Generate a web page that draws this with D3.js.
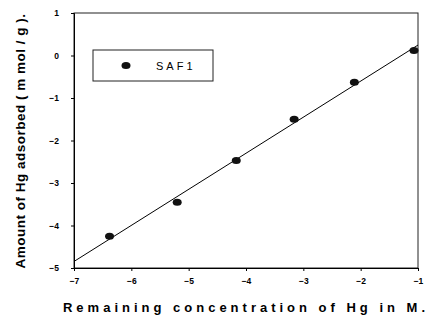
<!DOCTYPE html>
<html>
<head>
<meta charset="utf-8">
<script src="https://cdn.jsdelivr.net/npm/d3@7"></script>
<style>
  body { margin: 0; background: #fff; }
  text { font-family: Arial, "Liberation Sans", sans-serif; font-weight: bold; }
</style>
</head>
<body>
<div id="chart"></div>
<script>
var concX = [-6.38, -5.20, -4.17, -3.16, -2.11, -1.07];
var amountY = [-4.25, -3.45, -2.47, -1.50, -0.63, 0.12];
var xTicks = [-7, -6, -5, -4, -3, -2, -1];
var yTicks = [-5, -4, -3, -2, -1, 0, 1];
var seriesName = "SAF1";

var margin = {top: 13, right: 10, bottom: 47, left: 74},
    width = 428 - margin.left - margin.right,
    height = 315 - margin.top - margin.bottom;

var svg = d3.select("#chart").append("svg")
    .attr("width", 428)
    .attr("height", 315)
  .append("g")
    .attr("transform", "translate(" + margin.left + "," + margin.top + ")");

var x = d3.scaleLinear().domain([-7, -1]).range([0, width]);
var y = d3.scaleLinear().domain([-5, 1]).range([height, 0]);

// least squares fit
var mx = d3.mean(concX), my = d3.mean(amountY);
var sxy = d3.sum(concX, function(v, i) { return (v - mx) * (amountY[i] - my); });
var sxx = d3.sum(concX, function(v) { return (v - mx) * (v - mx); });
var slope = sxy / sxx, intercept = my - slope * mx;

// frame
svg.append("rect")
    .attr("width", width)
    .attr("height", height)
    .attr("fill", "none")
    .attr("stroke", "#222")
    .attr("stroke-width", 1);

var xAxis = svg.append("g")
    .attr("transform", "translate(0," + height + ")")
    .call(d3.axisBottom(x).tickValues(xTicks).tickSize(3).tickPadding(7).tickFormat(d3.format("d")));

var yAxis = svg.append("g")
    .call(d3.axisLeft(y).tickValues(yTicks).tickSize(3).tickPadding(12).tickFormat(d3.format("d")));

[xAxis, yAxis].forEach(function(a) {
  a.select(".domain").attr("stroke", "#000");
  a.selectAll("text").style("font-size", "8.5px").attr("fill", "#000");
});

var line = d3.line()
    .x(function(d) { return x(d); })
    .y(function(d) { return y(slope * d + intercept); });

svg.append("path")
    .datum([-7, -1])
    .attr("fill", "none")
    .attr("stroke", "#000")
    .attr("stroke-width", 1)
    .attr("d", line);

svg.selectAll(".pt")
    .data(concX)
  .enter().append("ellipse")
    .attr("class", "pt")
    .attr("cx", function(d) { return x(d); })
    .attr("cy", function(d, i) { return y(amountY[i]); })
    .attr("rx", 4.5)
    .attr("ry", 3.5)
    .attr("fill", "#111");

// legend
var lg = svg.append("g").attr("transform", "translate(19,37)");
lg.append("rect")
    .attr("width", 120)
    .attr("height", 31)
    .attr("fill", "#fff")
    .attr("stroke", "#222");
lg.append("ellipse")
    .attr("cx", 33)
    .attr("cy", 15.5)
    .attr("rx", 4.5)
    .attr("ry", 3.5)
    .attr("fill", "#111");
lg.append("text")
    .attr("x", 63)
    .attr("y", 19.5)
    .style("font-size", "11px")
    .style("font-weight", "normal")
    .style("letter-spacing", "3px")
    .text(seriesName);

svg.append("text")
    .attr("x", 172)
    .attr("y", height + 44)
    .attr("text-anchor", "middle")
    .style("font-size", "13px")
    .style("letter-spacing", "4px")
    .text("Remaining concentration of Hg in M.");

svg.append("text")
    .attr("transform", "rotate(-90)")
    .attr("x", -128)
    .attr("y", -49)
    .attr("text-anchor", "middle")
    .style("font-size", "13.5px")
    .style("letter-spacing", "0.5px")
    .text("Amount of Hg adsorbed ( m mol / g ).");
</script>
</body>
</html>
